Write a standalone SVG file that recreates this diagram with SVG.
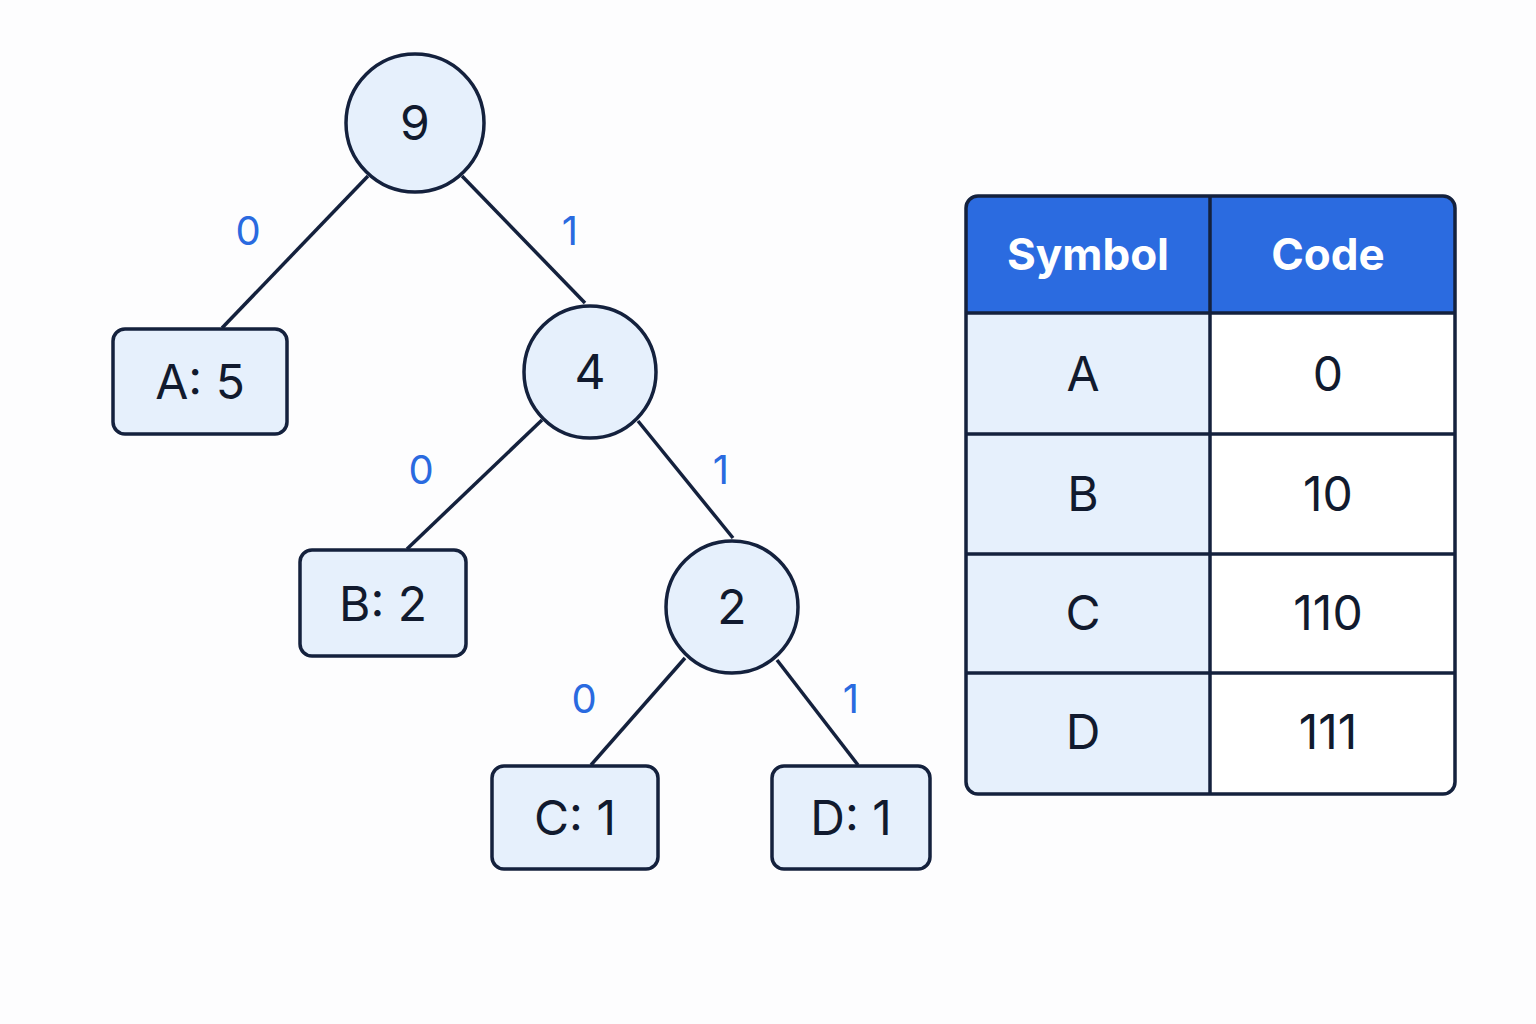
<svg xmlns="http://www.w3.org/2000/svg" width="1536" height="1024" viewBox="0 0 1536 1024">
<style>
.n{fill:#e6f0fc;stroke:#14213d;stroke-width:3.5}
.t{font-family:Inter,"Liberation Sans",sans-serif;fill:#111a2e;text-anchor:middle;font-size:48px}
.b{font-family:Inter,"Liberation Sans",sans-serif;fill:#2a6ae0;text-anchor:middle;font-size:40px}
.e{stroke:#14213d;stroke-width:3.5;fill:none}
.h{font-family:Inter,"Liberation Sans",sans-serif;fill:#fff;text-anchor:middle;font-size:44px;font-weight:bold}
</style>
<rect width="1536" height="1024" fill="#fdfdfe"/>
<g id="connectors">
<line class="e" x1="368" y1="176" x2="222" y2="328"/>
<line class="e" x1="462" y1="176" x2="585" y2="303"/>
<line class="e" x1="542" y1="420" x2="407" y2="549"/>
<line class="e" x1="638" y1="421" x2="733" y2="538"/>
<line class="e" x1="685" y1="658" x2="591" y2="765"/>
<line class="e" x1="777" y1="660" x2="858" y2="765"/>
<text class="b" x="248" y="245">0</text>
<text class="b" x="570" y="245">1</text>
<text class="b" x="421" y="484">0</text>
<text class="b" x="721" y="484">1</text>
<text class="b" x="584" y="713">0</text>
<text class="b" x="851" y="713">1</text>
</g>
<g id="n9"><circle class="n" cx="415" cy="123" r="69"/><text class="t" x="415" y="140">9</text></g>
<g id="n4"><circle class="n" cx="590" cy="372" r="66"/><text class="t" x="590" y="389">4</text></g>
<g id="n2"><circle class="n" cx="732" cy="607" r="66"/><text class="t" x="732" y="624">2</text></g>
<g id="A"><rect class="n" x="113" y="329" width="174" height="105" rx="12"/><text class="t" x="200" y="399">A: 5</text></g>
<g id="B"><rect class="n" x="300" y="550" width="166" height="106" rx="12"/><text class="t" x="383" y="621">B: 2</text></g>
<g id="C"><rect class="n" x="492" y="766" width="166" height="103" rx="12"/><text class="t" x="575" y="835">C: 1</text></g>
<g id="D"><rect class="n" x="772" y="766" width="158" height="103" rx="12"/><text class="t" x="851" y="835">D: 1</text></g>
<g id="table">
<rect x="966" y="196" width="489" height="598" rx="12" fill="#fff"/>
<path d="M978 196H1443A12 12 0 0 1 1455 208V313H966V208A12 12 0 0 1 978 196Z" fill="#2b6be0"/>
<path d="M966 313H1210V794H978A12 12 0 0 1 966 782Z" fill="#e6f0fc"/>
<rect x="966" y="196" width="489" height="598" rx="12" fill="none" stroke="#14213d" stroke-width="3.5"/>
<g stroke="#14213d" stroke-width="3.5">
<line x1="1210" y1="196" x2="1210" y2="794"/>
<line x1="966" y1="313" x2="1455" y2="313"/>
<line x1="966" y1="434" x2="1455" y2="434"/>
<line x1="966" y1="554" x2="1455" y2="554"/>
<line x1="966" y1="673" x2="1455" y2="673"/>
</g>
<text class="h" x="1088" y="270">Symbol</text>
<text class="h" x="1328" y="270">Code</text>
<text class="t" x="1083" y="391">A</text><text class="t" x="1328" y="391">0</text>
<text class="t" x="1083" y="511">B</text><text class="t" x="1328" y="511">10</text>
<text class="t" x="1083" y="630">C</text><text class="t" x="1328" y="630">110</text>
<text class="t" x="1083" y="749">D</text><text class="t" x="1328" y="749">111</text>
</g>
</svg>
